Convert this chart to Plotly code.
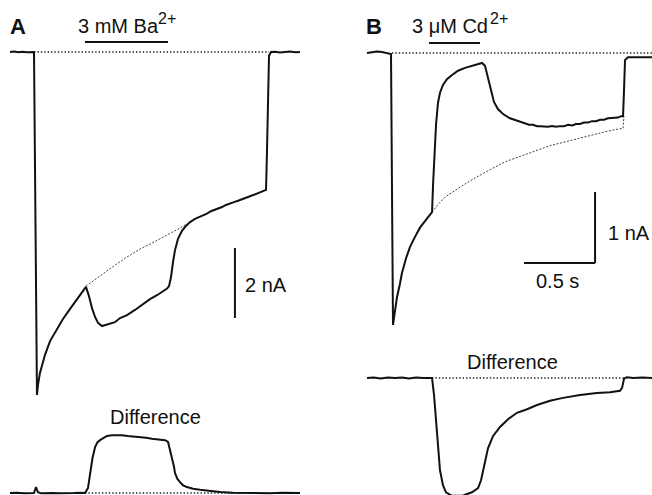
import plotly.graph_objects as go

# ---------------- DATA (time in s from pulse onset, current in nA) ----------------
# Panel A : 3 mM Ba2+
a_t = [-0.169, -0.14, -0.11, -0.08, -0.05, -0.02, 0.0, 0.021, 0.028, 0.042, 0.077, 0.113,
       0.162, 0.204, 0.254, 0.303, 0.338, 0.366, 0.387, 0.408, 0.430, 0.451, 0.479, 0.521,
       0.570, 0.606, 0.655, 0.711, 0.768, 0.817, 0.866, 0.908, 0.937, 0.951, 0.965, 0.979,
       0.993, 1.014, 1.042, 1.070, 1.099, 1.134, 1.169, 1.218, 1.246, 1.275, 1.300, 1.324,
       1.352, 1.380, 1.408, 1.437, 1.465, 1.493, 1.521, 1.549, 1.570, 1.592, 1.613, 1.634,
       1.641, 1.655, 1.669, 1.700, 1.732, 1.768, 1.803, 1.840, 1.873]
a_i = [0.0, 0.015, -0.01, 0.01, -0.005, 0.01, 0.0, -9.80, -9.51, -9.17, -8.66, -8.26,
       -7.91, -7.63, -7.34, -7.06, -6.86, -6.71, -6.97, -7.31, -7.57, -7.74, -7.83, -7.77,
       -7.72, -7.60, -7.52, -7.37, -7.20, -7.06, -6.95, -6.83, -6.76, -6.69, -6.43, -6.00,
       -5.66, -5.34, -5.11, -4.97, -4.86, -4.77, -4.71, -4.62, -4.55, -4.51, -4.46, -4.43,
       -4.37, -4.34, -4.29, -4.25, -4.20, -4.17, -4.12, -4.08, -4.05, -4.02, -3.98, -3.94,
       -2.80, -0.11, 0.0, 0.01, -0.015, 0.005, 0.015, -0.005, 0.0]
a_ctrl_t = [0.366, 0.43, 0.5, 0.57, 0.655, 0.746, 0.817, 0.887, 0.958, 1.028, 1.077]
a_ctrl_i = [-6.69, -6.50, -6.29, -6.09, -5.86, -5.63, -5.49, -5.34, -5.19, -5.03, -4.91]
a_diff_t = [-0.169, -0.12, -0.07, -0.03, 0.0, 0.014, 0.028, 0.05, 0.09, 0.13, 0.18, 0.23,
            0.28, 0.33, 0.359, 0.380, 0.394, 0.412, 0.430, 0.447, 0.465, 0.49, 0.514, 0.55,
            0.585, 0.62, 0.66, 0.70, 0.746, 0.79, 0.83, 0.87, 0.905, 0.923, 0.944, 0.958,
            0.972, 0.986, 0.993, 1.01, 1.028, 1.05, 1.077, 1.12, 1.169, 1.24, 1.31, 1.40,
            1.50, 1.592, 1.66, 1.75, 1.873]
a_diff_i = [0.0, 0.01, -0.01, 0.005, 0.0, 0.17, 0.02, -0.01, 0.005, 0.0, -0.01, 0.005,
            0.0, 0.01, 0.0, 0.14, 0.57, 1.0, 1.31, 1.45, 1.51, 1.58, 1.63, 1.65,
            1.66, 1.65, 1.63, 1.62, 1.60, 1.58, 1.55, 1.54, 1.53, 1.51, 1.46, 1.25,
            1.03, 0.75, 0.57, 0.40, 0.31, 0.22, 0.17, 0.12, 0.09, 0.05, 0.03, 0.01,
            0.0, 0.005, -0.005, 0.005, 0.0]
a_base_t = [0.0, 1.655]
a_diff_base_t = [0.359, 1.655]
ba_bar_t = [0.359, 0.944]
a_scale_i = [-5.6, -7.6]          # 2 nA
a_scale_t = 1.415

# Panel B : 3 uM Cd2+
b_t = [-0.176, -0.141, -0.106, -0.070, -0.035, -0.007, 0.007, 0.021, 0.035, 0.056, 0.070,
       0.099, 0.127, 0.162, 0.197, 0.239, 0.282, 0.289, 0.296, 0.310, 0.324, 0.338, 0.359,
       0.387, 0.423, 0.465, 0.514, 0.563, 0.606, 0.634, 0.655, 0.676, 0.697, 0.718, 0.746,
       0.782, 0.831, 0.859, 0.887, 0.915, 0.937, 0.965, 0.993, 1.021, 1.042, 1.070, 1.099,
       1.127, 1.155, 1.183, 1.211, 1.240, 1.268, 1.296, 1.324, 1.352, 1.380, 1.408, 1.437,
       1.465, 1.493, 1.521, 1.549, 1.570, 1.592, 1.613, 1.627, 1.634, 1.641, 1.662, 1.711,
       1.761, 1.831]
b_i = [0.0, 0.01, 0.02, 0.014, 0.0, -0.014, -3.83, -3.62, -3.44, -3.25, -3.10,
       -2.89, -2.73, -2.59, -2.46, -2.35, -2.24, -1.86, -1.51, -1.01, -0.70, -0.56, -0.45,
       -0.37, -0.31, -0.25, -0.21, -0.18, -0.15, -0.14, -0.18, -0.35, -0.55, -0.69, -0.79,
       -0.86, -0.92, -0.94, -0.96, -0.98, -0.99, -1.01, -1.01, -1.03, -1.03, -1.04, -1.04,
       -1.03, -1.04, -1.03, -1.03, -1.01, -1.02, -1.00, -1.00, -0.98, -0.98, -0.96, -0.96,
       -0.94, -0.94, -0.92, -0.92, -0.91, -0.91, -0.89, -0.89, -0.52, -0.10, -0.06, -0.06,
       -0.05, -0.06]
b_ctrl_t = [0.282, 0.33, 0.373, 0.43, 0.479, 0.55, 0.62, 0.711, 0.80, 0.88, 0.951, 1.04,
            1.12, 1.183, 1.26, 1.34, 1.415, 1.50, 1.57, 1.627, 1.634]
b_ctrl_i = [-2.24, -2.12, -2.03, -1.95, -1.89, -1.80, -1.72, -1.62, -1.53, -1.47, -1.42,
            -1.35, -1.30, -1.27, -1.23, -1.19, -1.15, -1.11, -1.08, -1.06, -0.89]
b_diff_t = [-0.176, -0.13, -0.08, -0.03, 0.02, 0.07, 0.12, 0.17, 0.22, 0.26, 0.282, 0.296,
            0.310, 0.324, 0.338, 0.359, 0.380, 0.423, 0.493, 0.563, 0.606, 0.627, 0.648,
            0.676, 0.711, 0.761, 0.817, 0.880, 0.951, 1.021, 1.113, 1.204, 1.324, 1.444,
            1.535, 1.606, 1.620, 1.634, 1.655, 1.70, 1.76, 1.831]
b_diff_i = [0.0, 0.008, -0.006, 0.008, 0.0, 0.008, -0.006, 0.008, 0.0, 0.006, 0.0, -0.24,
            -0.59, -0.97, -1.30, -1.51, -1.61, -1.66, -1.66, -1.61, -1.55, -1.44, -1.23,
            -0.99, -0.82, -0.69, -0.58, -0.49, -0.44, -0.38, -0.32, -0.28, -0.24, -0.21,
            -0.20, -0.18, -0.14, -0.01, 0.01, 0.0, 0.006, 0.0]
b_base_t = [0.0, 1.831]
b_diff_base_t = [0.282, 1.634]
cd_bar_t = [0.261, 0.620]
b_scale_i = [-1.958, -2.958]      # 1 nA
b_scale_tbar = [0.93, 1.43]       # 0.5 s
b_scale_t = 1.43

# ---------------- LAYOUT GEOMETRY ----------------
W, H = 652, 495
PX_S = 142.0                         # px per second
A_X0, A_Y0, A_PX_NA = 34, 52, 35.0   # panel A: onset x, baseline y, px per nA
A_DY0 = 493                          # panel A difference baseline
B_X0, B_Y0, B_PX_NA = 392, 53, 71.0
B_DY0 = 378

def xr(x0):
    return [-x0 / PX_S, (W - x0) / PX_S]

def yr(y0, s):
    return [(y0 - H) / s, y0 / s]

BLACK = "#111111"
MAIN = dict(color=BLACK, width=2)
CTRL = dict(color="#444444", width=1, dash="2px,1.6px")
BASE = dict(color="#222222", width=1.4, dash="1.4px,2px")
BAR = dict(color=BLACK, width=2)

fig = go.Figure()

def line(x, y, xa, ya, style):
    fig.add_trace(go.Scatter(x=x, y=y, xaxis=xa, yaxis=ya, mode="lines",
                             line=style, hoverinfo="skip", showlegend=False))

# Panel A
line(a_base_t, [0, 0], "x", "y", BASE)
line(a_ctrl_t, a_ctrl_i, "x", "y", CTRL)
line(a_t, a_i, "x", "y", MAIN)
line(ba_bar_t, [0.286, 0.286], "x", "y", BAR)
line([a_scale_t, a_scale_t], a_scale_i, "x", "y", BAR)
line(a_diff_base_t, [0, 0], "x", "y2", BASE)
line(a_diff_t, a_diff_i, "x", "y2", MAIN)

# Panel B
line(b_base_t, [0, 0], "x2", "y3", BASE)
line(b_ctrl_t, b_ctrl_i, "x2", "y3", CTRL)
line(b_t, b_i, "x2", "y3", MAIN)
line(cd_bar_t, [0.141, 0.141], "x2", "y3", BAR)
line([b_scale_t, b_scale_t], b_scale_i, "x2", "y3", BAR)
line(b_scale_tbar, [b_scale_i[1], b_scale_i[1]], "x2", "y3", BAR)
line(b_diff_base_t, [0, 0], "x2", "y4", BASE)
line(b_diff_t, b_diff_i, "x2", "y4", MAIN)

hidden = dict(visible=False, showgrid=False, zeroline=False, fixedrange=True, domain=[0, 1])
fig.update_layout(
    width=W, height=H, margin=dict(l=0, r=0, t=0, b=0),
    paper_bgcolor="white", plot_bgcolor="white",
    xaxis=dict(range=xr(A_X0), anchor="y", **hidden),
    xaxis2=dict(range=xr(B_X0), anchor="y3", overlaying="x", **hidden),
    yaxis=dict(range=yr(A_Y0, A_PX_NA), anchor="x", **hidden),
    yaxis2=dict(range=yr(A_DY0, A_PX_NA), anchor="x", overlaying="y", **hidden),
    yaxis3=dict(range=yr(B_Y0, B_PX_NA), anchor="x2", overlaying="y", **hidden),
    yaxis4=dict(range=yr(B_DY0, B_PX_NA), anchor="x2", overlaying="y", **hidden),
)

FONT = "Liberation Sans, Arial, Helvetica, sans-serif"

def label(text, px, py, size=20, xanchor="center", yanchor="middle", weight="normal"):
    fig.add_annotation(text=text, x=px / W, y=1 - py / H, xref="paper", yref="paper",
                       xanchor=xanchor, yanchor=yanchor, showarrow=False,
                       font=dict(family=FONT, size=size, color=BLACK, weight=weight))

label("A", 18, 26, size=22, weight="bold")
label("B", 374, 26, size=22, weight="bold")
label("3 mM Ba", 76, 26, xanchor="left")
label("2+", 156, 18, size=16, xanchor="left")
label("3 μM Cd", 410, 26, xanchor="left")
label("2+", 488, 18, size=16, xanchor="left")
label("2 nA", 243, 285, xanchor="left")
label("1 nA", 606, 233, xanchor="left")
label("0.5 s", 557, 281)
label("Difference", 155, 417)
label("Difference", 512, 362)

fig.write_html("out.html")
